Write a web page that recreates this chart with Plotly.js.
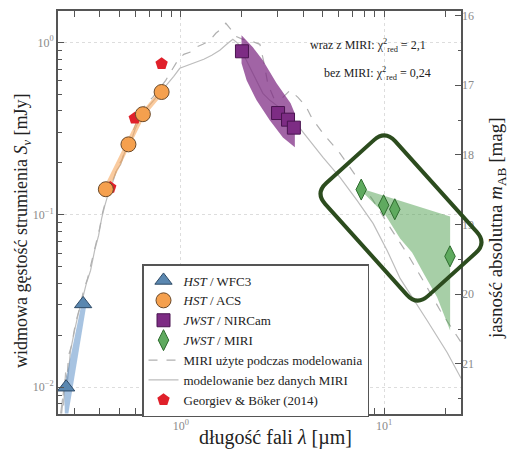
<!DOCTYPE html>
<html><head><meta charset="utf-8">
<script src="https://cdn.plot.ly/plotly-3.0.1.min.js"></script>
<style>html,body{margin:0;padding:0;background:#fff}</style>
</head><body><div id="chart" style="width:512px;height:451px"></div>
<script>
// ---- data (wavelength in micron, flux density in mJy) ----
const wfc3Lambda = [0.273, 0.331];
const wfc3Flux   = [0.0100, 0.0304];
const acsLambda  = [0.428, 0.553, 0.651, 0.805];
const acsFlux    = [0.1406, 0.256, 0.383, 0.515];
const nircamLambda = [2.00, 3.01, 3.37, 3.60];
const nircamFlux   = [0.887, 0.389, 0.356, 0.320];
const miriLambda = [7.72, 9.95, 11.29, 21.1];
const miriFlux   = [0.140, 0.1135, 0.1076, 0.0574];
const gbLambda = [0.450, 0.594, 0.805];
const gbFlux   = [0.1438, 0.3625, 0.752];
const gbErr    = [0.006, 0.012, 0.025];

// uncertainty bands
const wfc3BandLambda = [0.2690, 0.2672, 0.3240, 0.3420, 0.2800];
const wfc3BandFlux   = [0.00704, 0.0100, 0.0300, 0.0292, 0.00704];
const nircamUpLambda = [1.990, 2.263, 2.533, 2.96, 3.47, 3.64];
const nircamUpFlux   = [1.098, 0.935, 0.786, 0.578, 0.443, 0.387];
const nircamLoLambda = [1.990, 2.108, 2.36, 2.74, 3.18, 3.64];
const nircamLoFlux   = [0.756, 0.602, 0.461, 0.353, 0.281, 0.246];
const miriUpLambda = [7.70, 21.13];
const miriUpFlux   = [0.1422, 0.0978];
const miriLoLambda = [7.70, 10.11, 11.99, 13.73, 15.56, 18.24, 21.13];
const miriLoFlux   = [0.1384, 0.1005, 0.0729, 0.0605, 0.0463, 0.0332, 0.0213];

// model SED with MIRI (dashed)
const modelMiriLambda = [0.2594,0.2653,0.2683,0.2745,0.2808,0.2904,0.3040,0.3180,0.3328,0.3482,0.3644,0.3814,0.3990,0.4128,0.4271,0.4469,0.4677,0.4894,0.5122,0.5359,0.5608,0.5934,0.6281,0.6723,0.7280,0.7883,0.8435,0.9030,0.9665,1.0346,1.1074,1.1855,1.2835,1.3896,1.4874,1.592,1.666,1.763,1.866,2.020,2.238,2.450,2.564,2.684,2.872,3.145,3.443,3.771,4.129,4.419,5.007,6.072,7.362,8.829,10.70,12.98,15.56,18.88,23.95];
const modelMiriFlux = [0.00704,0.00932,0.01123,0.01037,0.01527,0.01746,0.02373,0.02861,0.03640,0.04272,0.05291,0.06642,0.08331,0.1032,0.1212,0.1461,0.1625,0.1908,0.2067,0.2427,0.2700,0.3256,0.3873,0.4367,0.4797,0.5408,0.6019,0.6879,0.7863,0.8520,0.8750,0.9354,0.9736,1.027,1.128,1.206,1.289,1.190,1.083,1.041,1.013,0.9736,0.7656,0.5706,0.4733,0.4733,0.5264,0.4797,0.4252,0.3622,0.2965,0.2270,0.1647,0.1212,0.08445,0.05966,0.04159,0.02786,0.01817];
// model SED without MIRI (solid)
const modelNoMiriLambda = [0.2564,0.2623,0.2653,0.2713,0.2775,0.2871,0.3005,0.3144,0.3290,0.3443,0.3602,0.3771,0.3945,0.4082,0.4222,0.4418,0.4624,0.4838,0.5062,0.5297,0.5608,0.5934,0.6281,0.6800,0.7362,0.7970,0.8628,0.9236,0.9887,1.083,1.186,1.298,1.421,1.556,1.704,1.804,1.909,2.043,2.187,2.342,2.535,2.744,3.005,3.366,3.728,4.036,4.419,5.007,6.072,7.362,8.829,10.35,11.99,13.90,16.29,20.43,23.95];
const modelNoMiriFlux = [0.00704,0.00860,0.00783,0.01217,0.01094,0.01633,0.02133,0.02713,0.03271,0.04050,0.04754,0.06211,0.07590,0.09524,0.1118,0.1348,0.1541,0.1809,0.1959,0.2300,0.2526,0.3086,0.3622,0.4140,0.4607,0.5127,0.5706,0.6349,0.7067,0.7357,0.7656,0.7969,0.8408,0.8986,0.9867,1.041,0.9867,0.8408,0.7067,0.6019,0.5059,0.4607,0.4252,0.3721,0.3345,0.2965,0.2594,0.2152,0.1647,0.1212,0.08911,0.06211,0.04272,0.03271,0.02438,0.01589,0.01123];

// axis ticks
const xTickVals = [1, 10];
const xTickText = ['10<sup>0</sup>', '10<sup>1</sup>'];
const xMinorVals = [0.3,0.4,0.5,0.6,0.7,0.8,0.9,2,3,4,5,6,7,8,9,20];
const yTickVals = [0.01, 0.1, 1];
const yTickText = ['10<sup>\u22122</sup>', '10<sup>\u22121</sup>', '10<sup>0</sup>'];
const yMinorVals = [0.008,0.009,0.02,0.03,0.04,0.05,0.06,0.07,0.08,0.09,0.2,0.3,0.4,0.5,0.6,0.7,0.8,0.9];
const magTickVals = [16, 17, 18, 19, 20, 21];

const legendLabels = ['<i>HST</i> / WFC3', '<i>HST</i> / ACS', '<i>JWST</i> / NIRCam', '<i>JWST</i> / MIRI',
  'MIRI użyte podczas modelowania', 'modelowanie bez danych MIRI', 'Georgiev & Böker (2014)'];

// ---- layout geometry ----
const W = 512, H = 451;
const M = {l: 58, r: 51, t: 11, b: 37};
const PW = W - M.l - M.r, PH = H - M.t - M.b;
const toPX = X => (X - M.l) / PW;
const toPY = Y => (M.t + PH - Y) / PH;

function band(upL, upF, loL, loF) {
  return {x: upL.concat(loL.slice().reverse()), y: upF.concat(loF.slice().reverse())};
}
const nb = band(nircamUpLambda, nircamUpFlux, nircamLoLambda, nircamLoFlux);
const mb = band(miriUpLambda, miriUpFlux, miriLoLambda, miriLoFlux);

const serif = 'Liberation Serif';
const traces = [
  {x: modelNoMiriLambda, y: modelNoMiriFlux, mode: 'lines', name: legendLabels[5], legendrank: 6,
   line: {color: '#bdbdbd', width: 1.2}},
  {x: modelMiriLambda, y: modelMiriFlux, mode: 'lines', name: legendLabels[4], legendrank: 5,
   line: {color: '#b0b0b0', width: 1.2, dash: 'dash'}},
  {x: wfc3BandLambda, y: wfc3BandFlux, mode: 'lines', fill: 'toself', fillcolor: 'rgba(80,135,195,0.5)',
   line: {width: 0}, showlegend: false, hoverinfo: 'skip'},
  {x: acsLambda, y: acsFlux, mode: 'lines', line: {color: 'rgba(245,160,80,0.55)', width: 5},
   showlegend: false, hoverinfo: 'skip'},
  {x: nb.x, y: nb.y, mode: 'lines', fill: 'toself', fillcolor: 'rgba(125,40,130,0.72)',
   line: {width: 0}, showlegend: false, hoverinfo: 'skip'},
  {x: mb.x, y: mb.y, mode: 'lines', fill: 'toself', fillcolor: 'rgba(80,160,80,0.5)',
   line: {width: 0}, showlegend: false, hoverinfo: 'skip'},
  {x: wfc3Lambda, y: wfc3Flux, mode: 'markers', name: legendLabels[0], legendrank: 1,
   marker: {symbol: 'triangle-up', size: 15, color: '#5a87b0', line: {color: '#2e4a66', width: 1}}},
  {x: gbLambda, y: gbFlux, mode: 'markers', name: legendLabels[6], legendrank: 7,
   error_y: {type: 'data', array: gbErr, color: '#e0202a', thickness: 1, width: 3},
   marker: {symbol: 'pentagon', size: 13, color: '#e0202a', line: {width: 0}}},
  {x: acsLambda, y: acsFlux, mode: 'markers', name: legendLabels[1], legendrank: 2,
   marker: {symbol: 'circle', size: 15, color: '#f5a04e', line: {color: '#6b4a2a', width: 1}}},
  {x: nircamLambda, y: nircamFlux, mode: 'markers', name: legendLabels[2], legendrank: 3,
   marker: {symbol: 'square', size: 13, color: '#7d2c84', line: {color: '#4a1450', width: 1}}},
  {x: miriLambda, y: miriFlux, mode: 'markers', name: legendLabels[3], legendrank: 4,
   marker: {symbol: 'diamond-tall', size: 15, color: '#5faa5f', line: {color: '#2e6b2e', width: 1}}},
  {x: [1], y: [18], yaxis: 'y2', mode: 'markers', marker: {opacity: 0}, showlegend: false, hoverinfo: 'skip'}
];

// highlight box (rounded, rotated) around the MIRI points, built in pixel space
function roundedBox(cx, cy, a, b, r, deg) {
  const t = deg * Math.PI / 180, c = Math.cos(t), s = Math.sin(t);
  const P = (u, v) => { const X = cx + u * c - v * s, Y = cy + u * s + v * c;
    return toPX(X).toFixed(4) + ',' + toPY(Y).toFixed(4); };
  return 'M' + P(-a + r, -b) + ' L' + P(a - r, -b) + ' Q' + P(a, -b) + ' ' + P(a, -b + r) +
    ' L' + P(a, b - r) + ' Q' + P(a, b) + ' ' + P(a - r, b) +
    ' L' + P(-a + r, b) + ' Q' + P(-a, b) + ' ' + P(-a, b - r) +
    ' L' + P(-a, -b + r) + ' Q' + P(-a, -b) + ' ' + P(-a + r, -b) + ' Z';
}

const axisCommon = {
  showline: true, linecolor: '#555', linewidth: 2, ticks: 'inside', ticklen: 6, tickwidth: 1,
  tickcolor: '#555', tickfont: {family: serif, size: 12, color: '#8a8a8a'}, zeroline: false,
  showgrid: true, gridcolor: '#ddd', griddash: 'dot', gridwidth: 1
};

const layout = {
  width: W, height: H, margin: M, paper_bgcolor: '#fff', plot_bgcolor: '#fff',
  font: {family: serif, color: '#222'},
  showlegend: true,
  xaxis: Object.assign({}, axisCommon, {
    type: 'log', range: [Math.log10(0.249), Math.log10(23.9)], mirror: 'allticks',
    tickmode: 'array', tickvals: xTickVals, ticktext: xTickText,
    minor: {tickmode: 'array', tickvals: xMinorVals, ticks: 'inside', ticklen: 3.5, tickcolor: '#555', showgrid: false}
  }),
  yaxis: Object.assign({}, axisCommon, {
    type: 'log', range: [-2.1555, 0.1816], mirror: true,
    tickmode: 'array', tickvals: yTickVals, ticktext: yTickText,
    minor: {tickmode: 'array', tickvals: yMinorVals, ticks: 'inside', ticklen: 3.5, tickcolor: '#555', showgrid: false}
  }),
  yaxis2: {
    overlaying: 'y', side: 'right', range: [21.72, 15.935], showline: false, showgrid: false, zeroline: false,
    ticks: 'inside', ticklen: 6, tickcolor: '#555', tickmode: 'array', tickvals: magTickVals,
    tickfont: {family: serif, size: 12, color: '#8a8a8a'},
    minor: {dtick: 0.5, ticks: 'inside', ticklen: 3.5, tickcolor: '#555'}
  },
  legend: {
    x: toPX(142), y: toPY(264), xanchor: 'left', yanchor: 'top',
    bgcolor: '#fff', bordercolor: '#555', borderwidth: 1.5,
    font: {family: serif, size: 13, color: '#222'}, traceorder: 'normal'
  },
  shapes: [{type: 'path', xref: 'paper', yref: 'paper', layer: 'above',
    path: roundedBox(401, 218, 76, 47, 15, 48), line: {color: '#2c4c1e', width: 4}}],
  annotations: [
    {xref: 'paper', yref: 'paper', x: toPX(275), y: toPY(437), text: 'długość fali <i>λ</i> [µm]',
     showarrow: false, font: {family: serif, size: 20, color: '#222'}, xanchor: 'center', yanchor: 'middle'},
    {xref: 'paper', yref: 'paper', x: toPX(22), y: toPY(231), text: 'widmowa gęstość strumienia <i>S<sub>ν</sub></i> [mJy]',
     showarrow: false, textangle: -90, font: {family: serif, size: 18, color: '#222'}, xanchor: 'center', yanchor: 'middle'},
    {xref: 'paper', yref: 'paper', x: toPX(497), y: toPY(228), text: 'jasność absolutna <i>m</i><sub>AB</sub> [mag]',
     showarrow: false, textangle: -90, font: {family: serif, size: 19, color: '#222'}, xanchor: 'center', yanchor: 'middle'},
    {xref: 'paper', yref: 'paper', x: toPX(428), y: toPY(45), text: 'wraz z MIRI: χ<sup>2</sup><sub>red</sub> = 2,1',
     showarrow: false, font: {family: serif, size: 12, color: '#222'}, xanchor: 'right', yanchor: 'middle'},
    {xref: 'paper', yref: 'paper', x: toPX(433), y: toPY(73), text: 'bez MIRI: χ<sup>2</sup><sub>red</sub> = 0,24',
     showarrow: false, font: {family: serif, size: 12, color: '#222'}, xanchor: 'right', yanchor: 'middle'}
  ]
};

Plotly.newPlot('chart', traces, layout, {staticPlot: true, displayModeBar: false});
</script></body></html>
